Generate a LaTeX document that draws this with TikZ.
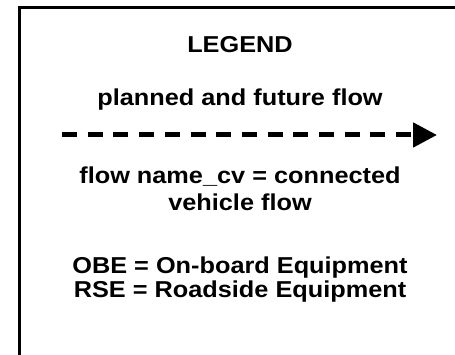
\documentclass[tikz,border=0pt]{standalone}
\usepackage{fontspec}
\setmainfont{Liberation Sans}
\usetikzlibrary{arrows.meta}
\begin{document}
\begin{tikzpicture}[x=1pt,y=-1pt,
  legtext/.style={anchor=base,inner sep=0pt,font=\bfseries\fontsize{23}{27}\selectfont,xscale=1.1},
  frame/.style={line width=3pt},
  flowline/.style={line width=5pt,dash pattern=on 15pt off 10.7pt,-{Triangle[length=24pt,width=24pt]}}]
\useasboundingbox (0,0) rectangle (455,355);
\clip (0,0) rectangle (455,355);
\fill[white] (0,0) rectangle (455,355);
\draw[frame] (19.5,400) -- (19.5,8) -- (500,8);
\node[legtext] (title) at (240,53) {LEGEND};
\node[legtext] (planned) at (240,106) {planned and future flow};
\coordinate (a) at (62,135);
\coordinate (b) at (437,135);
\draw[flowline] (a) -- (b);
\node[legtext] (cv1) at (240,184) {flow name\_cv = connected};
\node[legtext] (cv2) at (240,211) {vehicle flow};
\node[legtext] (obe) at (240,273) {OBE = On-board Equipment};
\node[legtext] (rse) at (240,298) {RSE = Roadside Equipment};
\end{tikzpicture}
\end{document}
